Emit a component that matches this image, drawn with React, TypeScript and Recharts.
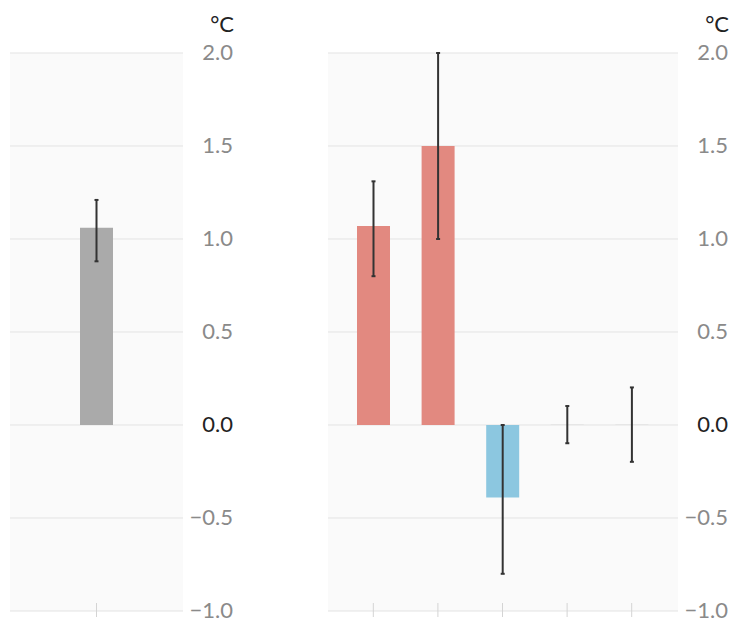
import React from "react";
import { BarChart, Bar, XAxis, YAxis, CartesianGrid, ErrorBar, Cell } from "recharts";

// left panel
const leftCategories = ["all"];
const leftValues = [1.06];
const leftErrLow = [0.18];
const leftErrHigh = [0.15];

// right panel
const rightCategories = ["a", "b", "c", "d", "e"];
const rightValues = [1.07, 1.5, -0.39, 0.002, 0.002];
const rightErrLow = [0.27, 0.5, 0.41, 0.1, 0.2];
const rightErrHigh = [0.24, 0.5, 0.39, 0.1, 0.2];

const yTicks = [-1, -0.5, 0, 0.5, 1, 1.5, 2];

const FONT = "Lato, 'Open Sans', sans-serif";

const build = (cats: string[], vals: number[], lo: number[], hi: number[]) =>
  cats.map((c, i) => ({ name: c, value: vals[i], err: [lo[i], hi[i]] }));

const leftData = build(leftCategories, leftValues, leftErrLow, leftErrHigh);
const rightData = build(rightCategories, rightValues, rightErrLow, rightErrHigh);

const fmt = (v: number) => (v < 0 ? "\u2212" + Math.abs(v).toFixed(1) : v.toFixed(1));

const YTick = (props: any) => {
  const { x, y, payload } = props;
  const zero = payload.value === 0;
  return (
    <text x={x + 50} y={y} dy={7} textAnchor="end" fontSize={22} fontFamily={FONT} fill={zero ? "#222" : "#8a8a8a"}>
      {fmt(payload.value)}
    </text>
  );
};

const XTick = (props: any) => {
  const { x, y } = props;
  return <line x1={x} x2={x} y1={y - 8} y2={y + 6} stroke="#d4d4d4" strokeWidth={1} />;
};

const Unit = (props: any) => {
  const vb = props.viewBox || { x: 0 };
  return (
    <text x={vb.x + 51} y={32} textAnchor="end" fontSize={22} fontFamily={FONT} fill="#222">
      °C
    </text>
  );
};

const barColor = (v: number, neutral: boolean) =>
  neutral ? "#aaaaaa" : Math.abs(v) < 0.01 ? "#d0d0d0" : v >= 0 ? "#e28980" : "#8cc7e0";

const Panel = ({ data, width, marginLeft, axisWidth, padding, neutral }: any) => (
  <BarChart
    width={width}
    height={623}
    data={data}
    margin={{ top: 53, right: 0, bottom: 11, left: marginLeft }}
    barSize={33}
  >
    <CartesianGrid vertical={false} fill="#fafafa" stroke="#e3e3e3" />
    <XAxis
      dataKey="name"
      height={1}
      axisLine={false}
      tickLine={false}
      tickSize={0}
      tickMargin={0}
      tick={<XTick />}
      padding={padding}
      interval={0}
    />
    <YAxis
      orientation="right"
      domain={[-1, 2]}
      ticks={yTicks}
      width={axisWidth}
      axisLine={false}
      tickLine={false}
      tickSize={0}
      tickMargin={0}
      tick={<YTick />}
      label={<Unit />}
      interval={0}
    />
    <Bar dataKey="value" isAnimationActive={false}>
      {data.map((d: any, i: number) => (
        <Cell key={i} fill={barColor(d.value, neutral)} />
      ))}
      <ErrorBar dataKey="err" width={2} strokeWidth={2} stroke="#333" direction="y" />
    </Bar>
  </BarChart>
);

export default function App() {
  return (
    <div style={{ position: "absolute", left: 0, top: 0, width: 732, height: 623, background: "#fff", display: "flex" }}>
      <Panel data={leftData} width={250} marginLeft={10} axisWidth={67} padding={{ left: 0, right: 0 }} neutral />
      <Panel data={rightData} width={482} marginLeft={78} axisWidth={54} padding={{ left: 13, right: 14 }} neutral={false} />
    </div>
  );
}
